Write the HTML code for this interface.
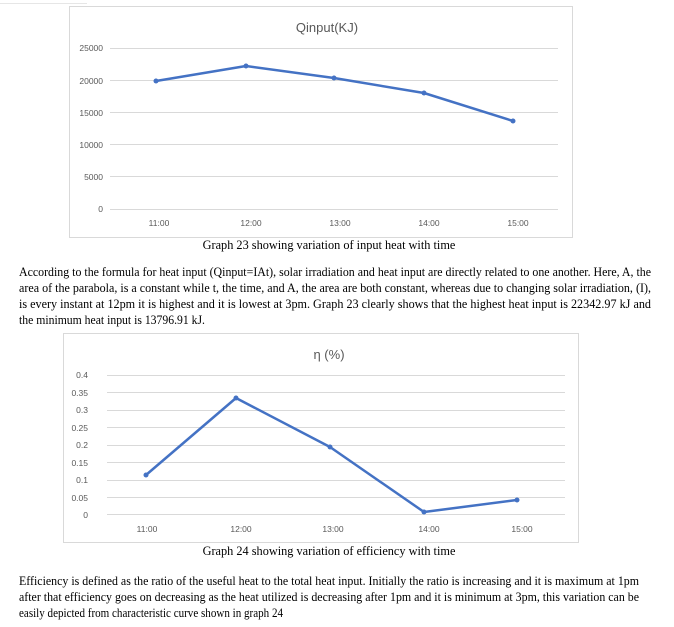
<!DOCTYPE html>
<html><head><meta charset="utf-8"><style>
html,body{margin:0;padding:0;background:#fff;}
svg{display:block;}
.t{font-family:"Liberation Serif",serif;font-size:12.3px;fill:#000;}
.a{font-family:"Liberation Sans",sans-serif;font-size:8.5px;fill:#595959;}
.ti{font-family:"Liberation Sans","DejaVu Sans",sans-serif;font-size:13px;fill:#595959;}
.g{stroke:#d9d9d9;stroke-width:1;}
</style></head><body>
<svg width="674" height="627" viewBox="0 0 674 627">
<line x1="0" y1="3.5" x2="87" y2="3.5" stroke="#e6e6e6"/>
<!-- Chart 1 -->
<rect x="69.5" y="6.5" width="503" height="231" fill="#fff" stroke="#d9d9d9"/>
<text class="ti" x="327" y="32" text-anchor="middle">Qinput(KJ)</text>
<g class="g">
<line x1="110" y1="48.5" x2="558" y2="48.5"/>
<line x1="110" y1="80.5" x2="558" y2="80.5"/>
<line x1="110" y1="112.5" x2="558" y2="112.5"/>
<line x1="110" y1="144.5" x2="558" y2="144.5"/>
<line x1="110" y1="176.5" x2="558" y2="176.5"/>
<line x1="110" y1="209.5" x2="558" y2="209.5"/>
</g>
<g class="a" text-anchor="end">
<text x="103" y="51">25000</text><text x="103" y="84">20000</text><text x="103" y="116">15000</text>
<text x="103" y="148">10000</text><text x="103" y="180">5000</text><text x="103" y="212">0</text>
</g>
<g class="a" text-anchor="middle">
<text x="159" y="226">11:00</text><text x="251" y="226">12:00</text><text x="340" y="226">13:00</text>
<text x="429" y="226">14:00</text><text x="518" y="226">15:00</text>
</g>
<polyline points="156,81 246,66 334,78 424,93 513,121" fill="none" stroke="#4472c4" stroke-width="2.5" stroke-linejoin="round"/>
<g fill="#4472c4"><circle cx="156" cy="81" r="2.5"/><circle cx="246" cy="66" r="2.5"/><circle cx="334" cy="78" r="2.5"/><circle cx="424" cy="93" r="2.5"/><circle cx="513" cy="121" r="2.5"/></g>
<text class="t" x="329" y="249" text-anchor="middle">Graph 23 showing variation of input heat with time</text>
<!-- paragraph 1 -->
<text class="t" x="19" y="276" textLength="632" lengthAdjust="spacingAndGlyphs">According to the formula for heat input (Qinput=IAt), solar irradiation and heat input are directly related to one another. Here, A, the</text>
<text class="t" x="19" y="292" textLength="632" lengthAdjust="spacingAndGlyphs">area of the parabola, is a constant while t, the time, and A, the area are both constant, whereas due to changing solar irradiation, (I),</text>
<text class="t" x="19" y="308" textLength="632" lengthAdjust="spacingAndGlyphs">is every instant at 12pm it is highest and it is lowest at 3pm. Graph 23 clearly shows that the highest heat input is 22342.97 kJ and</text>
<text class="t" x="19" y="324" textLength="186" lengthAdjust="spacingAndGlyphs">the minimum heat input is 13796.91 kJ.</text>
<!-- Chart 2 -->
<rect x="63.5" y="333.5" width="515" height="209" fill="#fff" stroke="#d9d9d9"/>
<text class="ti" x="329" y="359" text-anchor="middle">η (%)</text>
<g class="g">
<line x1="107" y1="375.5" x2="565" y2="375.5"/>
<line x1="107" y1="392.5" x2="565" y2="392.5"/>
<line x1="107" y1="410.5" x2="565" y2="410.5"/>
<line x1="107" y1="427.5" x2="565" y2="427.5"/>
<line x1="107" y1="445.5" x2="565" y2="445.5"/>
<line x1="107" y1="462.5" x2="565" y2="462.5"/>
<line x1="107" y1="480.5" x2="565" y2="480.5"/>
<line x1="107" y1="497.5" x2="565" y2="497.5"/>
<line x1="107" y1="514.5" x2="565" y2="514.5"/>
</g>
<g class="a" text-anchor="end">
<text x="88" y="378">0.4</text><text x="88" y="396">0.35</text><text x="88" y="413">0.3</text>
<text x="88" y="431">0.25</text><text x="88" y="448">0.2</text><text x="88" y="466">0.15</text>
<text x="88" y="483">0.1</text><text x="88" y="501">0.05</text><text x="88" y="518">0</text>
</g>
<g class="a" text-anchor="middle">
<text x="147" y="532">11:00</text><text x="241" y="532">12:00</text><text x="333" y="532">13:00</text>
<text x="429" y="532">14:00</text><text x="522" y="532">15:00</text>
</g>
<polyline points="146,475 236,398 330,447 424,512 517,500" fill="none" stroke="#4472c4" stroke-width="2.5" stroke-linejoin="round"/>
<g fill="#4472c4"><circle cx="146" cy="475" r="2.5"/><circle cx="236" cy="398" r="2.5"/><circle cx="330" cy="447" r="2.5"/><circle cx="424" cy="512" r="2.5"/><circle cx="517" cy="500" r="2.5"/></g>
<text class="t" x="329" y="555" text-anchor="middle">Graph 24 showing variation of efficiency with time</text>
<!-- paragraph 2 -->
<text class="t" x="19" y="585" textLength="620" lengthAdjust="spacingAndGlyphs">Efficiency is defined as the ratio of the useful heat to the total heat input. Initially the ratio is increasing and it is maximum at 1pm</text>
<text class="t" x="19" y="601" textLength="620" lengthAdjust="spacingAndGlyphs">after that efficiency goes on decreasing as the heat utilized is decreasing after 1pm and it is minimum at 3pm, this variation can be</text>
<text class="t" x="19" y="617" textLength="264" lengthAdjust="spacingAndGlyphs">easily depicted from characteristic curve shown in graph 24</text>
</svg>
</body></html>
